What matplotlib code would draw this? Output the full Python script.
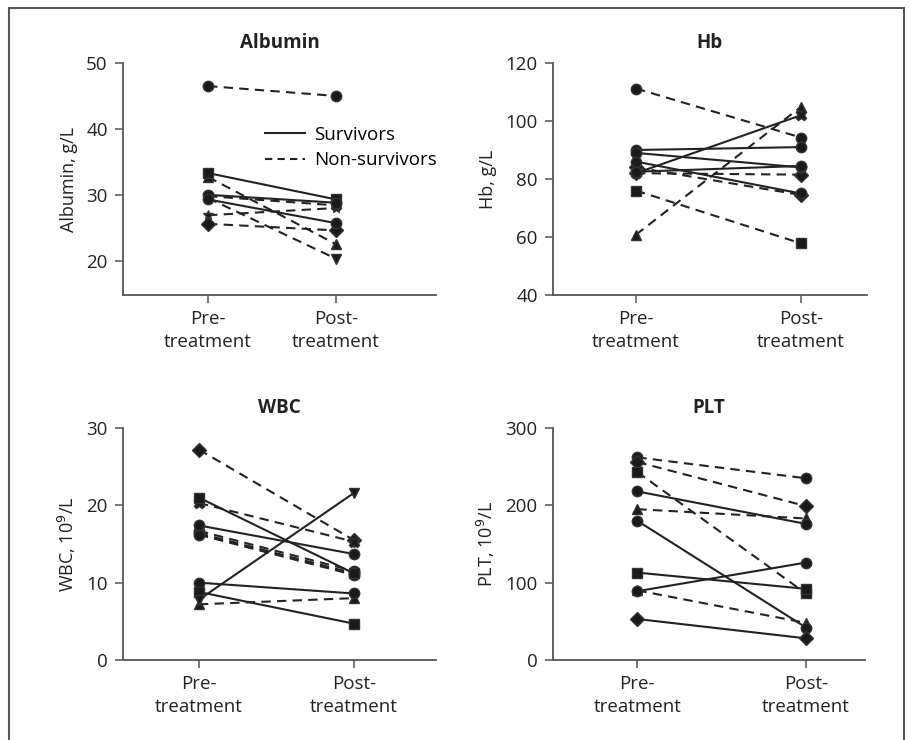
import matplotlib
matplotlib.use("Agg")
import matplotlib.pyplot as plt
from matplotlib.lines import Line2D
from matplotlib.patches import Rectangle

plt.rcParams['font.family'] = ['Open Sans', 'DejaVu Sans']

# x categories
x_labels = ['Pre-\ntreatment', 'Post-\ntreatment']

# Albumin, g/L  (pre, post) per patient
alb_surv = [[33.3, 29.3], [30.0, 28.8], [29.3, 25.7]]
alb_surv_mk = ['s', 'o', 'o']
alb_non = [[46.5, 45.0], [32.7, 22.5], [29.5, 20.3], [29.8, 28.4], [26.9, 28.0], [25.6, 24.6]]
alb_non_mk = ['o', '^', 'v', 'X', '*', 'D']

# Hb, g/L
hb_surv = [[90.0, 91.0], [89.0, 84.0], [86.0, 75.0], [82.0, 102.0], [82.5, 84.5]]
hb_surv_mk = ['o', 'o', 'o', 'X', 'o']
hb_non = [[111.2, 94.3], [60.8, 104.9], [76.0, 57.8], [82.0, 81.5], [84.0, 74.5]]
hb_non_mk = ['o', '^', 's', 'D', 'D']

# WBC, 10^9/L
wbc_surv = [[21.0, 11.2], [17.4, 13.7], [10.0, 8.6], [8.8, 4.7], [7.8, 21.6]]
wbc_surv_mk = ['s', 'o', 'o', 's', 'v']
wbc_non = [[27.2, 15.5], [20.3, 15.3], [16.7, 11.5], [16.4, 11.2], [16.2, 11.0], [7.2, 8.0]]
wbc_non_mk = ['D', 'X', 'o', 'o', 'o', '^']

# PLT, 10^9/L
plt_surv = [[218, 176], [180, 42], [113, 92], [89, 126], [53, 28]]
plt_surv_mk = ['o', 'o', 's', 'o', 'D']
plt_non = [[262, 235], [256, 199], [243, 86], [195, 183], [90, 48]]
plt_non_mk = ['o', 'D', 's', '^', '^']

W, H = 912, 740
fig = plt.figure(figsize=(W / 100, H / 100), dpi=100)

# outer frame (bottom edge runs off the image)
fig.patches.append(Rectangle((9 / W, -0.05), (904 - 9) / W, 1.05 - 8 / H,
                             transform=fig.transFigure, fill=False,
                             edgecolor='#555555', linewidth=1.5))

panels = [
    # title, ylabel, surv, surv markers, non, non markers, ylim, yticks, box px, xlim
    ('Albumin', 'Albumin, g/L', alb_surv, alb_surv_mk, alb_non, alb_non_mk,
     (14.8, 50), [20, 30, 40, 50], (123, 436, 63, 295), (0.336, 2.78)),
    ('Hb', 'Hb, g/L', hb_surv, hb_surv_mk, hb_non, hb_non_mk,
     (40, 120), [40, 60, 80, 100, 120], (553, 867, 63, 295), (0.497, 2.4)),
    ('WBC', 'WBC, 10$^{9}$/L', wbc_surv, wbc_surv_mk, wbc_non, wbc_non_mk,
     (0, 30), [0, 10, 20, 30], (123, 436, 428, 660), (0.51, 2.53)),
    ('PLT', 'PLT, 10$^{9}$/L', plt_surv, plt_surv_mk, plt_non, plt_non_mk,
     (0, 300), [0, 100, 200, 300], (553, 865, 428, 660), (0.50, 2.35)),
]

line_col = '#222222'
axis_col = '#555555'
xs = [1, 2]

for title, ylab, surv, smk, non, nmk, ylim, yticks, box, xlim in panels:
    l, r, t, b = box
    ax = fig.add_axes([l / W, (H - b) / H, (r - l) / W, (b - t) / H])
    for vals, mk in zip(non, nmk):
        ax.plot(xs, vals, linestyle=(0, (4.5, 3)), color=line_col, linewidth=1.5,
                marker=mk, markersize=7.5, markerfacecolor='#1a1a1a',
                markeredgecolor='#333333', clip_on=False)
    for vals, mk in zip(surv, smk):
        ax.plot(xs, vals, linestyle='-', color=line_col, linewidth=1.5,
                marker=mk, markersize=7.5, markerfacecolor='#1a1a1a',
                markeredgecolor='#333333', clip_on=False)
    ax.set_xlim(*xlim)
    ax.set_ylim(*ylim)
    ax.set_yticks(yticks)
    ax.set_xticks(xs)
    ax.set_xticklabels(x_labels, fontsize=13.5, color='#222222', linespacing=1.35)
    ax.tick_params(axis='y', labelsize=13.5, labelcolor='#222222')
    ax.tick_params(direction='out', length=6, width=1.1, color=axis_col, pad=5)
    for s in ['top', 'right']:
        ax.spines[s].set_visible(False)
    for s in ['left', 'bottom']:
        ax.spines[s].set_color(axis_col)
        ax.spines[s].set_linewidth(1.3)
    ax.set_title(title, fontsize=13.5, fontweight='bold', color='#222222', pad=11)
    ax.set_ylabel(ylab, fontsize=13, color='#222222', labelpad=6)

    if title == 'Albumin':
        handles = [Line2D([0], [0], color=line_col, linewidth=1.5, linestyle='-'),
                   Line2D([0], [0], color=line_col, linewidth=1.5, linestyle=(0, (3.5, 2.5)))]
        ax.legend(handles, ['Survivors', 'Non-survivors'], frameon=False,
                  fontsize=13.5, loc='upper left', bbox_to_anchor=(0.455, 0.73),
                  handlelength=2.1, handletextpad=0.5, labelspacing=0.4,
                  borderaxespad=0, borderpad=0)

fig.savefig('out.png', dpi=100)
